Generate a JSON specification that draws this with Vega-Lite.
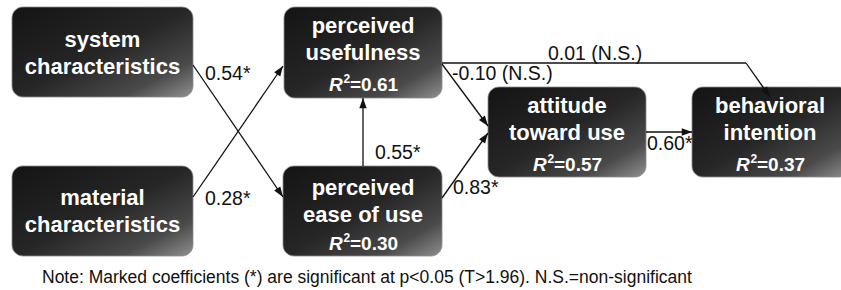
{
  "$schema": "https://vega.github.io/schema/vega-lite/v6.json",
  "width": 841,
  "height": 290,
  "padding": 0,
  "autosize": {"type": "fit", "contains": "padding"},
  "background": "white",
  "config": {"view": {"stroke": null}},
  "datasets": {
    "nodes": [
      {"id": "system", "x1": 12, "x2": 193, "y1": 7, "y2": 97},
      {"id": "material", "x1": 12, "x2": 193, "y1": 166, "y2": 256},
      {"id": "pu", "x1": 284, "x2": 442, "y1": 7, "y2": 98},
      {"id": "peou", "x1": 283, "x2": 442, "y1": 166, "y2": 256},
      {"id": "atu", "x1": 488, "x2": 646, "y1": 87, "y2": 177},
      {"id": "bi", "x1": 692, "x2": 850, "y1": 87, "y2": 177}
    ],
    "boxlabels": [
      {"x": 102.5, "y": 47, "text": "system"},
      {"x": 102.5, "y": 74, "text": "characteristics"},
      {"x": 102.5, "y": 205, "text": "material"},
      {"x": 102.5, "y": 232, "text": "characteristics"},
      {"x": 363, "y": 33, "text": "perceived"},
      {"x": 363, "y": 60, "text": "usefulness"},
      {"x": 363, "y": 195, "text": "perceived"},
      {"x": 363, "y": 222, "text": "ease of use"},
      {"x": 567, "y": 113, "text": "attitude"},
      {"x": 567, "y": 140, "text": "toward use"},
      {"x": 770, "y": 113, "text": "behavioral"},
      {"x": 770, "y": 140, "text": "intention"}
    ],
    "r2": [
      {"x": 363, "y": 91, "v": "=0.61"},
      {"x": 363, "y": 250, "v": "=0.30"},
      {"x": 567, "y": 171, "v": "=0.57"},
      {"x": 770, "y": 171, "v": "=0.37"}
    ],
    "edges": [
      {"x": 193, "y": 65, "x2": 283, "y2": 197, "head": 1},
      {"x": 193, "y": 197, "x2": 283, "y2": 66, "head": 1},
      {"x": 363, "y": 166, "x2": 363, "y2": 98, "head": 1},
      {"x": 442, "y": 198, "x2": 488, "y2": 133, "head": 1},
      {"x": 442, "y": 64, "x2": 488, "y2": 126, "head": 1},
      {"x": 442, "y": 63, "x2": 746, "y2": 63, "head": 0},
      {"x": 746, "y": 63, "x2": 770, "y2": 97, "head": 1},
      {"x": 646, "y": 132, "x2": 692, "y2": 132, "head": 1}
    ],
    "edgelabels": [
      {"x": 205, "y": 80, "text": "0.54*"},
      {"x": 205, "y": 205, "text": "0.28*"},
      {"x": 375, "y": 159, "text": "0.55*"},
      {"x": 453, "y": 194, "text": "0.83*"},
      {"x": 452, "y": 80, "text": "-0.10 (N.S.)"},
      {"x": 548, "y": 60, "text": "0.01 (N.S.)"},
      {"x": 647, "y": 150, "text": "0.60*"}
    ],
    "note": [
      {"x": 42, "y": 283, "text": "Note: Marked coefficients (*) are significant at p<0.05 (T>1.96). N.S.=non-significant"}
    ]
  },
  "layer": [
    {
      "data": {"name": "nodes"},
      "mark": {
        "type": "rect",
        "cornerRadius": 11,
        "clip": true,
        "stroke": "#8a8a8a",
        "strokeWidth": 0.8,
        "fill": {
          "gradient": "linear",
          "x1": 0, "y1": 0, "x2": 1, "y2": 1,
          "stops": [
            {"offset": 0, "color": "#141414"},
            {"offset": 0.5, "color": "#262626"},
            {"offset": 0.8, "color": "#4a4a4a"},
            {"offset": 1, "color": "#909090"}
          ]
        }
      },
      "encoding": {
        "x": {"field": "x1", "type": "quantitative", "scale": {"domain": [0, 841], "nice": false, "zero": false}, "axis": null},
        "x2": {"field": "x2"},
        "y": {"field": "y1", "type": "quantitative", "scale": {"domain": [0, 290], "reverse": true, "nice": false, "zero": false}, "axis": null},
        "y2": {"field": "y2"}
      }
    },
    {
      "data": {"name": "edges"},
      "mark": {"type": "rule", "color": "#111111", "strokeWidth": 1.3},
      "encoding": {
        "x": {"field": "x", "type": "quantitative"},
        "x2": {"field": "x2"},
        "y": {"field": "y", "type": "quantitative"},
        "y2": {"field": "y2"}
      }
    },
    {
      "data": {"name": "edges"},
      "transform": [
        {"filter": "datum.head == 1"},
        {"calculate": "atan2(datum.x2 - datum.x, datum.y - datum.y2) * 180 / PI", "as": "ang"},
        {"calculate": "datum.x2", "as": "hx"},
        {"calculate": "datum.y2", "as": "hy"}
      ],
      "mark": {"type": "point", "shape": "M0,0L-0.36,1L0.36,1Z", "filled": true, "fill": "#111111", "stroke": null, "fillOpacity": 1, "opacity": 1, "size": 420},
      "encoding": {
        "x": {"field": "hx", "type": "quantitative"},
        "y": {"field": "hy", "type": "quantitative"},
        "angle": {"field": "ang", "type": "quantitative", "scale": null}
      }
    },
    {
      "data": {"name": "boxlabels"},
      "mark": {"type": "text", "font": "Liberation Sans", "fontSize": 22, "fontWeight": "bold", "color": "white", "align": "center", "baseline": "alphabetic"},
      "encoding": {
        "x": {"field": "x", "type": "quantitative"},
        "y": {"field": "y", "type": "quantitative"},
        "text": {"field": "text"}
      }
    },
    {
      "data": {"name": "r2"},
      "mark": {"type": "text", "font": "Liberation Sans", "fontSize": 19, "fontWeight": "bold", "fontStyle": "italic", "color": "white", "align": "left", "baseline": "alphabetic", "dx": -34},
      "encoding": {
        "x": {"field": "x", "type": "quantitative"},
        "y": {"field": "y", "type": "quantitative"},
        "text": {"value": "R"}
      }
    },
    {
      "data": {"name": "r2"},
      "mark": {"type": "text", "font": "Liberation Sans", "fontSize": 12, "fontWeight": "bold", "color": "white", "align": "left", "baseline": "alphabetic", "dx": -19.5, "dy": -8},
      "encoding": {
        "x": {"field": "x", "type": "quantitative"},
        "y": {"field": "y", "type": "quantitative"},
        "text": {"value": "2"}
      }
    },
    {
      "data": {"name": "r2"},
      "mark": {"type": "text", "font": "Liberation Sans", "fontSize": 19, "fontWeight": "bold", "color": "white", "align": "left", "baseline": "alphabetic", "dx": -13},
      "encoding": {
        "x": {"field": "x", "type": "quantitative"},
        "y": {"field": "y", "type": "quantitative"},
        "text": {"field": "v"}
      }
    },
    {
      "data": {"name": "edgelabels"},
      "mark": {"type": "text", "font": "Liberation Sans", "fontSize": 19.5, "color": "#111111", "align": "left", "baseline": "alphabetic"},
      "encoding": {
        "x": {"field": "x", "type": "quantitative"},
        "y": {"field": "y", "type": "quantitative"},
        "text": {"field": "text"}
      }
    },
    {
      "data": {"name": "note"},
      "mark": {"type": "text", "font": "Liberation Sans", "fontSize": 17.5, "color": "#111111", "align": "left", "baseline": "alphabetic"},
      "encoding": {
        "x": {"field": "x", "type": "quantitative"},
        "y": {"field": "y", "type": "quantitative"},
        "text": {"field": "text"}
      }
    }
  ]
}
